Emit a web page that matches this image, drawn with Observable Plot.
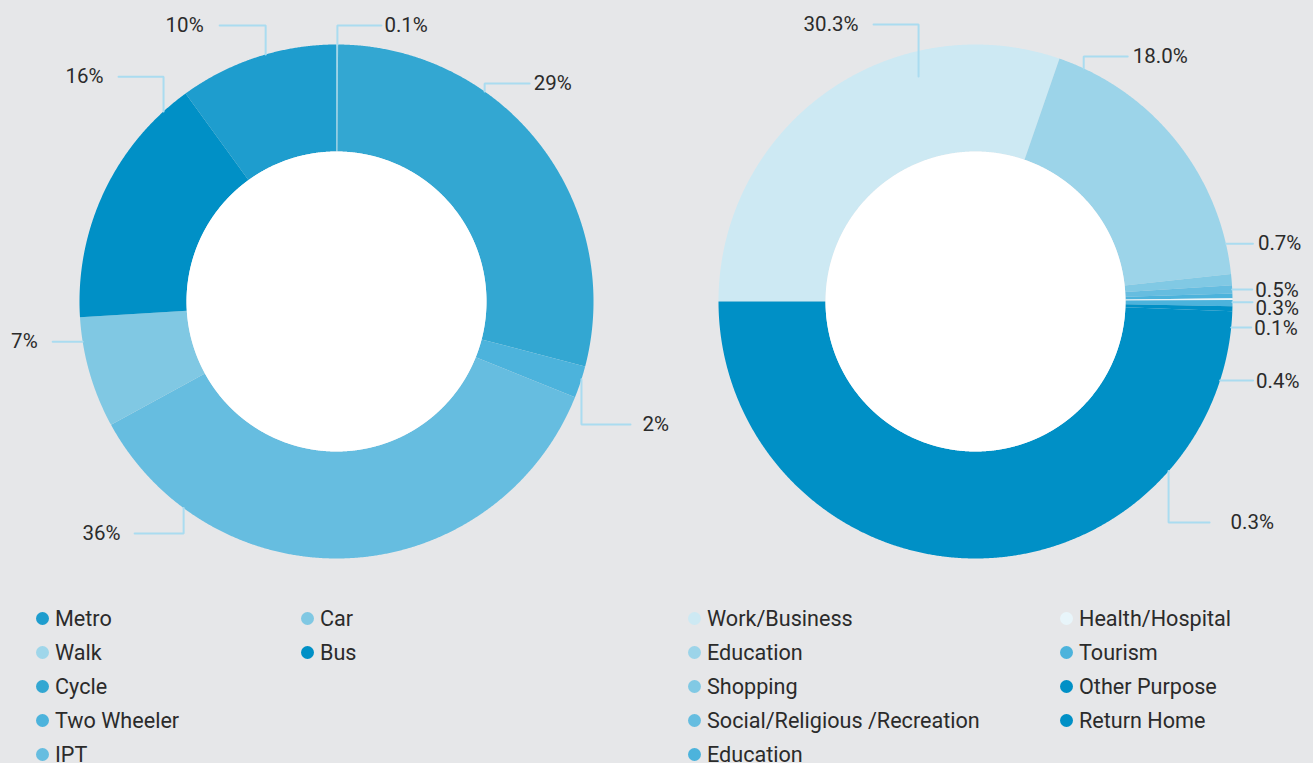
<!DOCTYPE html>
<html>
<head>
<meta charset="utf-8">
<script src="https://cdn.jsdelivr.net/npm/d3@7"></script>
<script src="https://cdn.jsdelivr.net/npm/@observablehq/plot@0.6"></script>
<style>
  html, body { margin: 0; padding: 0; background: #e6e7e9; }
  body { width: 1313px; height: 763px; overflow: hidden; position: relative; font-family: Roboto, "Noto Sans", sans-serif; }
  #chart { position: absolute; left: 0; top: 0; }
  .item { position: absolute; height: 34px; display: flex; align-items: center; font-size: 21.6px; color: #2b2b2b; white-space: nowrap; }
  .sw { width: 13px; height: 13px; border-radius: 50%; margin-right: 6.5px; flex: none; }
</style>
</head>
<body>
<div id="chart"></div>
<div id="legend"></div>
<script>
// ---------- data ----------
const modeLabels = ["Metro", "Walk", "Cycle", "Two Wheeler", "IPT", "Car", "Bus"];
const modeShares = [10, 0.1, 29, 2, 36, 7, 16];

const purposeLabels = ["Work/Business", "Education", "Shopping", "Social/Religious /Recreation", "Education", "Health/Hospital", "Tourism", "Other Purpose", "Return Home"];
const purposeShares = [30.3, 18.0, 0.7, 0.5, 0.3, 0.1, 0.4, 0.3, 49.4];
const purposeShown = [true, true, true, true, true, true, true, true, false];

// ---------- styles ----------
const modeColors = ["#1e9dce", "#9fd6ea", "#33a7d2", "#4cb3dc", "#66bde0", "#80c8e3", "#0090c6"];
const purposeColors = ["#cde9f3", "#9cd4e9", "#81c9e4", "#66bde0", "#4cb3dc", "#e8f5fa", "#4cb3dc", "#0090c6", "#0090c6"];
const leaderColor = "#aadcf0";
const textColor = "#2b2b2b";

// ---------- geometry (pixels) ----------
const W = 1313, H = 600;
const R = 257, innerR = 150;
const cxLeftPx = 336, cxRightPx = 975, cyPx = 301;

// label placement: anchor angle (deg, clockwise from top), anchor radius fraction,
// elbow level (radius units, null = horizontal leader), direction, leader length px, text gap px, text dy px
const modeLabelLayout = [
  {angle: 344, r: 1, level: 1.074, dir: -1, len: 46, gap: 16, dy: 0},
  {angle: 0.2, r: 1, level: 1.074, dir: 1, len: 44, gap: 3, dy: 0},
  {angle: 35.2, r: 1, level: 0.848, dir: 1, len: 45, gap: 4, dy: 0},
  {angle: 107.6, r: 1, level: -0.479, dir: 1, len: 49, gap: 12, dy: 0},
  {angle: 216.5, r: 1, level: -0.903, dir: -1, len: 49, gap: 14, dy: 0},
  {angle: 261, r: 1, level: null, dir: -1, len: 30, gap: 15, dy: 0},
  {angle: 317.7, r: 1, level: 0.875, dir: -1, len: 45, gap: 15, dy: 0}
];
const purposeLabelLayout = [
  {angle: 345.8, r: 0.903, level: 1.078, dir: -1, len: 45, gap: 15, dy: 0},
  {angle: 24.9, r: 1, level: 0.953, dir: 1, len: 44, gap: 5, dy: 0},
  {angle: 77, r: 1, level: null, dir: 1, len: 27, gap: 5, dy: 0},
  {angle: 87.3, r: 1, level: null, dir: 1, len: 20, gap: 3, dy: 1},
  {angle: 90.16, r: 1, level: null, dir: 1, len: 20, gap: 3, dy: 6},
  {angle: 95.8, r: 1, level: null, dir: 1, len: 20, gap: 3, dy: 1},
  {angle: 107.9, r: 1, level: null, dir: 1, len: 33, gap: 3, dy: 1},
  {angle: 131.3, r: 1, level: -0.86, dir: 1, len: 41, gap: 21, dy: 0},
  null
];

// ---------- build geometry in radius units ----------
const u = px => px / R;
const leftC = {x: 0, y: 0};
const rightC = {x: u(cxRightPx - cxLeftPx), y: 0};
const innerF = innerR / R;
const deg = Math.PI / 180;

const slicePts = [];
const leaderPts = [];
const labelsStart = [];
const labelsEnd = [];

function ring(key, c, a0, a1, r0, r1, color) {
  const n = Math.max(2, Math.ceil((a1 - a0) / (0.25 * deg)));
  for (let i = 0; i <= n; i++) {
    const a = a0 + (a1 - a0) * i / n;
    slicePts.push({key, color, x: c.x + r1 * Math.sin(a), y: c.y + r1 * Math.cos(a)});
  }
  for (let i = n; i >= 0; i--) {
    const a = a0 + (a1 - a0) * i / n;
    slicePts.push({key, color, x: c.x + r0 * Math.sin(a), y: c.y + r0 * Math.cos(a)});
  }
}

function donut(id, labels, shares, colors, layout, c, start, fmt, shown) {
  const arcs = d3.pie().sort(null).startAngle(start).endAngle(start + 2 * Math.PI)(shares);
  arcs.forEach((arc, i) => {
    ring(id + i, c, arc.startAngle, arc.endAngle, innerF, 1, colors[i]);
  });
  // white hole
  ring(id + "hole", c, 0, 2 * Math.PI, 0, innerF, "#ffffff");
  shares.forEach((v, i) => {
    const L = layout[i];
    if (!L || (shown && !shown[i])) return;
    const a = L.angle * deg;
    const ax = c.x + L.r * Math.sin(a), ay = c.y + L.r * Math.cos(a);
    const lvl = L.level == null ? ay : c.y + L.level;
    const ex = ax + L.dir * u(L.len);
    const key = id + "lead" + i;
    leaderPts.push({key, x: ax, y: ay});
    if (L.level != null) leaderPts.push({key, x: ax, y: lvl});
    leaderPts.push({key, x: ex, y: lvl});
    const t = {x: ex + L.dir * u(L.gap), y: lvl - u(L.dy), text: fmt(v)};
    (L.dir > 0 ? labelsStart : labelsEnd).push(t);
  });
}

donut("m", modeLabels, modeShares, modeColors, modeLabelLayout, leftC,
  -2 * Math.PI * modeShares[0] / d3.sum(modeShares),
  v => (v < 1 ? v.toFixed(1) : v.toFixed(0)) + "%");
donut("p", purposeLabels, purposeShares, purposeColors, purposeLabelLayout, rightC,
  -Math.PI / 2, v => v.toFixed(1) + "%", purposeShown);

const plot = Plot.plot({
  width: W, height: H,
  margin: 0,
  x: {type: "linear", domain: [-u(cxLeftPx), u(W - cxLeftPx)], range: [0, W], axis: null},
  y: {type: "linear", domain: [-u(H - cyPx), u(cyPx)], range: [H, 0], axis: null},
  color: {type: "identity"},
  style: {background: "transparent", overflow: "visible", fontFamily: "Roboto, 'Noto Sans', sans-serif"},
  marks: [
    Plot.line(slicePts, {x: "x", y: "y", z: "key", fill: "color", stroke: "none", curve: "linear"}),
    Plot.line(leaderPts, {x: "x", y: "y", z: "key", stroke: leaderColor, strokeWidth: 2, strokeLinejoin: "miter", curve: "linear"}),
    Plot.text(labelsStart, {x: "x", y: "y", text: "text", textAnchor: "start", fontSize: 20.5, fill: textColor}),
    Plot.text(labelsEnd, {x: "x", y: "y", text: "text", textAnchor: "end", fontSize: 20.5, fill: textColor})
  ]
});
document.getElementById("chart").appendChild(plot);

// ---------- legends ----------
const legendTop = 618, rowStep = 34;
const legendCols = [
  {labels: modeLabels, colors: modeColors, cols: [42, 307], perCol: 5},
  {labels: purposeLabels, colors: purposeColors, cols: [694, 1066], perCol: 5}
];
const legend = document.getElementById("legend");
legendCols.forEach(g => {
  g.labels.forEach((lab, i) => {
    const col = Math.floor(i / g.perCol), row = i % g.perCol;
    const div = document.createElement("div");
    div.className = "item";
    div.style.left = (g.cols[col] - 6.5) + "px";
    div.style.top = (legendTop + row * rowStep - 17) + "px";
    const sw = document.createElement("span");
    sw.className = "sw";
    sw.style.background = g.colors[i];
    div.appendChild(sw);
    div.appendChild(document.createTextNode(lab));
    legend.appendChild(div);
  });
});
</script>
</body>
</html>
